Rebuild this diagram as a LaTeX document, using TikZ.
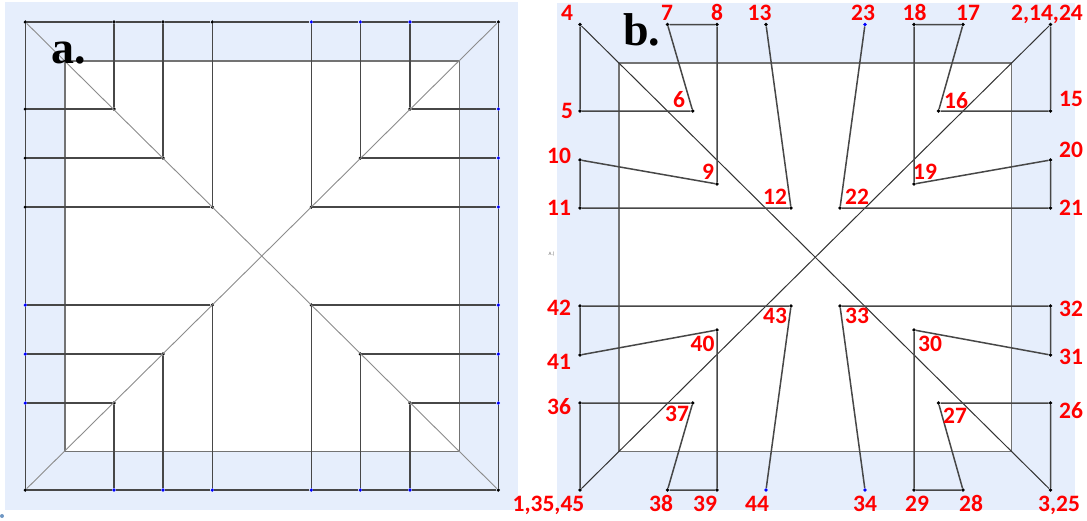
\documentclass[tikz,border=0pt]{standalone}
\usepackage{fontspec}
\setmainfont{Carlito}
\newfontfamily\serifhead{Liberation Serif}
\definecolor{panelblue}{HTML}{E6EEFC}
\definecolor{foldblue}{HTML}{0000FF}
\definecolor{labred}{HTML}{FF0000}
\tikzset{
  dotk/.style={circle,fill=black,inner sep=0pt,minimum size=3.6pt},
  dotb/.style={circle,fill=foldblue,inner sep=0pt,minimum size=3.6pt},
  crn/.style={inner sep=0pt,minimum size=0pt},
  fold/.style={draw=black!72,line width=1.5pt},
  innerline/.style={draw=black!55,line width=1.3pt},
  diaga/.style={draw=black!45,line width=.9pt},
  diagb/.style={draw=black!80,line width=1pt},
  lab/.style={text=labred,font=\fontsize{23.5}{24}\selectfont\bfseries,inner sep=0pt,text height=15pt,text depth=0pt},
  head/.style={text=black,font=\fontsize{46}{46}\serifhead\bfseries,inner sep=0pt,anchor=base west},
}
\begin{document}
\begin{tikzpicture}[x=1pt,y=-1pt]
\useasboundingbox (0,0) rectangle (1087,520);
% panels
\fill[panelblue] (5,2) rectangle (518,510);
\fill[panelblue] (557,3) rectangle (1075,510);
\fill[white] (65,61) rectangle (459.5,451.5);
\fill[white] (619,63) rectangle (1011.5,451.5);
% ---------- panel a ----------
\node[crn] (aTL) at (65,61) {};
\node[crn] (aTR) at (459.5,61) {};
\node[crn] (aBR) at (459.5,451.5) {};
\node[crn] (aBL) at (65,451.5) {};
\node[dotk] (a1) at (25.3,22) {};
\node[dotk] (a2) at (498.3,22) {};
\node[dotk] (a3) at (498.3,490) {};
\node[dotk] (a4) at (25.3,490) {};
\node[dotk] (t1) at (114,22) {};
\node[dotk] (t2) at (163,22) {};
\node[dotk] (t3) at (212.3,22) {};
\node[dotb] (t4) at (311.3,22) {};
\node[dotb] (t5) at (360.3,22) {};
\node[dotb] (t6) at (410,22) {};
\node[dotb] (b1) at (114,490) {};
\node[dotb] (b2) at (163,490) {};
\node[dotb] (b3) at (212.3,490) {};
\node[dotb] (b4) at (311.3,490) {};
\node[dotb] (b5) at (360.3,490) {};
\node[dotb] (b6) at (410,490) {};
\node[dotk] (l1) at (25.3,109) {};
\node[dotk] (l2) at (25.3,158) {};
\node[dotk] (l3) at (25.3,207) {};
\node[dotb] (l4) at (25.3,305) {};
\node[dotb] (l5) at (25.3,354) {};
\node[dotb] (l6) at (25.3,403) {};
\node[dotb] (r1) at (498.3,109) {};
\node[dotb] (r2) at (498.3,158) {};
\node[dotb] (r3) at (498.3,207) {};
\node[dotb] (r4) at (498.3,305) {};
\node[dotb] (r5) at (498.3,354) {};
\node[dotb] (r6) at (498.3,403) {};
\node[dotk] (c1) at (114,109) {};
\node[dotk] (c2) at (163,158) {};
\node[dotk] (c3) at (212.3,207) {};
\node[dotk] (c4) at (410,109) {};
\node[dotk] (c5) at (360.3,158) {};
\node[dotk] (c6) at (311.3,207) {};
\node[dotk] (c7) at (311.3,305) {};
\node[dotk] (c8) at (360.3,354) {};
\node[dotk] (c9) at (410,403) {};
\node[dotk] (c10) at (212.3,305) {};
\node[dotk] (c11) at (163,354) {};
\node[dotk] (c12) at (114,403) {};
\draw[innerline] (aTL.center) -- (aTR.center) -- (aBR.center) -- (aBL.center) -- cycle;
\draw[diaga] (a1) -- (a3);
\draw[diaga] (a4) -- (a2);
\draw[fold] (a1) -- (t1) -- (t2) -- (t3) -- (t4) -- (t5) -- (t6) -- (a2) -- (r1) -- (r2) -- (r3) -- (r4) -- (r5) -- (r6) -- (a3) -- (b6) -- (b5) -- (b4) -- (b3) -- (b2) -- (b1) -- (a4) -- (l6) -- (l5) -- (l4) -- (l3) -- (l2) -- (l1) -- (a1);
\foreach \p/\q/\r in {t1/c1/l1,t2/c2/l2,t3/c3/l3,t6/c4/r1,t5/c5/r2,t4/c6/r3,b4/c7/r4,b5/c8/r5,b6/c9/r6,b3/c10/l4,b2/c11/l5,b1/c12/l6}
  \draw[fold] (\p) -- (\q) -- (\r);
\node[head] (ha) at (51.5,63.5) {a.};
% ---------- panel b ----------
\node[crn] (bTL) at (619,63) {};
\node[crn] (bTR) at (1011.5,63) {};
\node[crn] (bBR) at (1011.5,451.5) {};
\node[crn] (bBL) at (619,451.5) {};
\draw[innerline] (bTL.center) -- (bTR.center) -- (bBR.center) -- (bBL.center) -- cycle;
\node[dotk] (p1) at (580,490) {};
\node[dotk] (p2) at (1050.5,24.5) {};
\node[dotk] (p3) at (1050.5,490) {};
\node[dotk] (p4) at (580,24.5) {};
\node[dotk] (p5) at (580,111) {};
\node[dotk] (p6) at (692.7,111) {};
\node[dotk] (p7) at (667.5,24.5) {};
\node[dotk] (p8) at (717,24.5) {};
\node[dotk] (p9) at (717,184) {};
\node[dotk] (p10) at (580,160) {};
\node[dotk] (p11) at (580,208) {};
\node[dotk] (p12) at (791,208) {};
\node[dotk] (p13) at (766,24.5) {};
\node[dotk] (p15) at (1050.5,111) {};
\node[dotk] (p16) at (938.5,111) {};
\node[dotk] (p17) at (963,24.5) {};
\node[dotk] (p18) at (914,24.5) {};
\node[dotk] (p19) at (914,184) {};
\node[dotk] (p20) at (1050.5,160) {};
\node[dotk] (p21) at (1050.5,208) {};
\node[dotk] (p22) at (840,208) {};
\node[dotb] (p23) at (865,24.5) {};
\node[dotk] (p26) at (1050.5,403) {};
\node[dotk] (p27) at (938.5,403) {};
\node[dotk] (p28) at (963,490) {};
\node[dotk] (p29) at (914,490) {};
\node[dotk] (p30) at (914,330) {};
\node[dotk] (p31) at (1050.5,355) {};
\node[dotk] (p32) at (1050.5,306) {};
\node[dotk] (p33) at (840,306) {};
\node[dotb] (p34) at (865,490) {};
\node[dotk] (p36) at (580,403) {};
\node[dotk] (p37) at (692.7,403) {};
\node[dotk] (p38) at (667.5,490) {};
\node[dotk] (p39) at (717,490) {};
\node[dotk] (p40) at (717,330) {};
\node[dotk] (p41) at (580,355) {};
\node[dotk] (p42) at (580,306) {};
\node[dotk] (p43) at (791,306) {};
\node[dotb] (p44) at (766,490) {};
\draw[diagb] (p1) -- (p2);
\draw[diagb] (p3) -- (p4);
\draw[fold] (p4) -- (p5) -- (p6) -- (p7) -- (p8) -- (p9) -- (p10) -- (p11) -- (p12) -- (p13);
\draw[fold] (p2) -- (p15) -- (p16) -- (p17) -- (p18) -- (p19) -- (p20) -- (p21) -- (p22) -- (p23);
\draw[fold] (p3) -- (p26) -- (p27) -- (p28) -- (p29) -- (p30) -- (p31) -- (p32) -- (p33) -- (p34);
\draw[fold] (p1) -- (p36) -- (p37) -- (p38) -- (p39) -- (p40) -- (p41) -- (p42) -- (p43) -- (p44);
\node[head] (hb) at (623,45) {b.};
\node[text=black!60,font=\fontsize{5}{5}\selectfont,inner sep=0pt] (tiny) at (551.5,254) {A.)};
\node[circle,fill=black!30!cyan!60!blue,inner sep=0pt,minimum size=4pt,opacity=.7] (stray) at (2,516) {};
% labels
\node[lab] (n4) at (567,13) {4};
\node[lab] (n7) at (667,13) {7};
\node[lab] (n8) at (717,13) {8};
\node[lab] (n13) at (759.5,13) {13};
\node[lab] (n23) at (863,13) {23};
\node[lab] (n18) at (914.5,13) {18};
\node[lab] (n17) at (968,13) {17};
\node[lab] (n2) at (1047,13) {2,14,24};
\node[lab] (n5) at (567,111) {5};
\node[lab] (n6) at (679,100) {6};
\node[lab] (n15) at (1071,99) {15};
\node[lab] (n10) at (559,156) {10};
\node[lab] (n9) at (708,172) {9};
\node[lab] (n20) at (1071,150) {20};
\node[lab] (n19) at (925,172) {19};
\node[lab] (n16) at (956,101) {16};
\node[lab] (n11) at (559,208) {11};
\node[lab] (n12) at (775,197) {12};
\node[lab] (n22) at (857,197) {22};
\node[lab] (n21) at (1071,208) {21};
\node[lab] (n42) at (559,308) {42};
\node[lab] (n43) at (775,316) {43};
\node[lab] (n33) at (857,316) {33};
\node[lab] (n32) at (1071,309) {32};
\node[lab] (n41) at (559,362) {41};
\node[lab] (n40) at (702.5,344) {40};
\node[lab] (n30) at (930,344) {30};
\node[lab] (n31) at (1071,357) {31};
\node[lab] (n36) at (559,407) {36};
\node[lab] (n37) at (677,414) {37};
\node[lab] (n27) at (955,416) {27};
\node[lab] (n26) at (1071,411) {26};
\node[lab] (n1) at (548.5,504) {1,35,45};
\node[lab] (n38) at (661,504) {38};
\node[lab] (n39) at (705,504) {39};
\node[lab] (n44) at (757,504) {44};
\node[lab] (n34) at (865,504) {34};
\node[lab] (n29) at (917,504) {29};
\node[lab] (n28) at (971,504) {28};
\node[lab] (n3) at (1059,504) {3,25};
\end{tikzpicture}
\end{document}
